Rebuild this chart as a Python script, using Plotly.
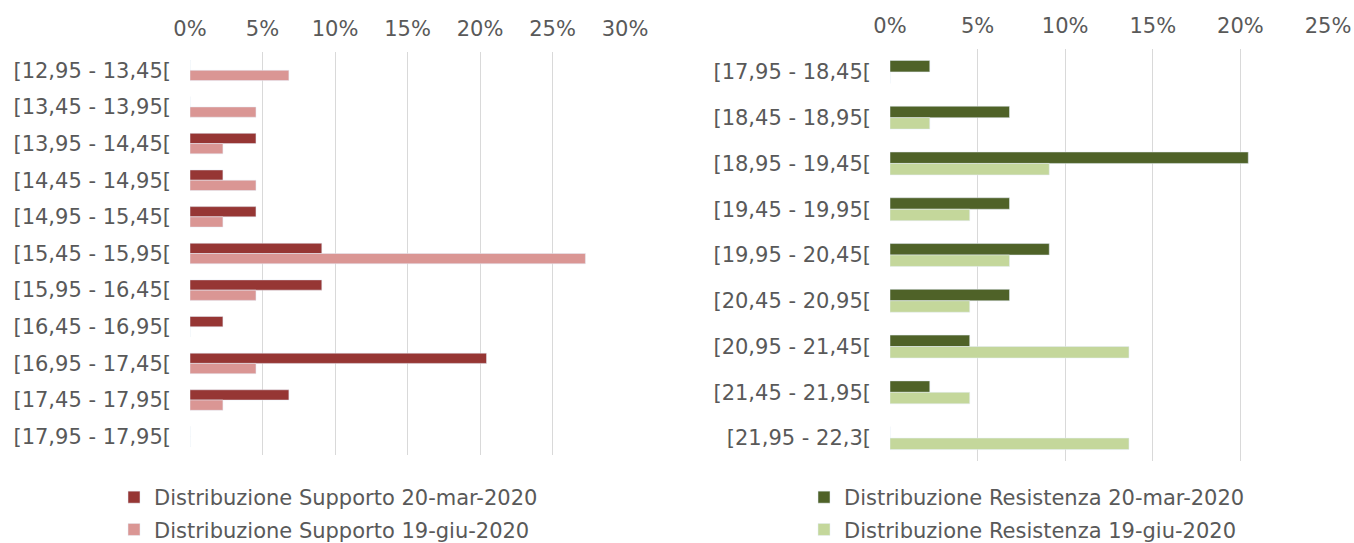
import plotly.graph_objects as go

# Left chart (Supporto)
sup_cats = ["[12,95 - 13,45[", "[13,45 - 13,95[", "[13,95 - 14,45[", "[14,45 - 14,95[",
            "[14,95 - 15,45[", "[15,45 - 15,95[", "[15,95 - 16,45[", "[16,45 - 16,95[",
            "[16,95 - 17,45[", "[17,45 - 17,95[", "[17,95 - 17,95["]
sup_mar = [0, 0, 4.55, 2.27, 4.55, 9.09, 9.09, 2.27, 20.45, 6.82, 0]
sup_giu = [6.82, 4.55, 2.27, 4.55, 2.27, 27.27, 4.55, 0, 4.55, 2.27, 0]

# Right chart (Resistenza)
res_cats = ["[17,95 - 18,45[", "[18,45 - 18,95[", "[18,95 - 19,45[", "[19,45 - 19,95[",
            "[19,95 - 20,45[", "[20,45 - 20,95[", "[20,95 - 21,45[", "[21,45 - 21,95[",
            "[21,95 - 22,3["]
res_mar = [2.27, 6.82, 20.45, 6.82, 9.09, 6.82, 4.55, 2.27, 0]
res_giu = [0, 2.27, 9.09, 4.55, 6.82, 4.55, 13.64, 4.55, 13.64]

sup_ticks = [0, 5, 10, 15, 20, 25, 30]
sup_ticktext = ["0%", "5%", "10%", "15%", "20%", "25%", "30%"]
res_ticks = [0, 5, 10, 15, 20, 25]
res_ticktext = ["0%", "5%", "10%", "15%", "20%", "25%"]

TXT = "#595959"
GRID = "#D9D9D9"
FONT = "DejaVu Sans, Liberation Sans, Arial, sans-serif"
FS = 21

fig = go.Figure()
wl = 0.28
wr = 0.25
fig.add_trace(go.Bar(y=sup_cats, x=sup_mar, orientation="h", name="Distribuzione Supporto 20-mar-2020",
                     marker=dict(color="#963634"), width=wl, offset=-wl, xaxis="x", yaxis="y",
                     legend="legend", legendgroup="a"))
fig.add_trace(go.Bar(y=sup_cats, x=sup_giu, orientation="h", name="Distribuzione Supporto 19-giu-2020",
                     marker=dict(color="#DA9694"), width=wl, offset=0, xaxis="x", yaxis="y",
                     legend="legend", legendgroup="b"))
fig.add_trace(go.Bar(y=res_cats, x=res_mar, orientation="h", name="Distribuzione Resistenza 20-mar-2020",
                     marker=dict(color="#4F6228"), width=wr, offset=-wr, xaxis="x2", yaxis="y2",
                     legend="legend2", legendgroup="c"))
fig.add_trace(go.Bar(y=res_cats, x=res_giu, orientation="h", name="Distribuzione Resistenza 19-giu-2020",
                     marker=dict(color="#C4D79B"), width=wr, offset=0, xaxis="x2", yaxis="y2",
                     legend="legend2", legendgroup="d"))

W, H = 1354, 543
xax = dict(side="top", showgrid=True, gridcolor=GRID, gridwidth=1, zeroline=False, showline=False,
           tickfont=dict(size=FS, color=TXT, family=FONT), ticks="", ticklabelstandoff=11,
           automargin=False, tickmode="array")
yax = dict(autorange="reversed", showgrid=False, zeroline=False, showline=False,
           tickfont=dict(size=FS, color=TXT, family=FONT), ticks="", ticklabelstandoff=18,
           automargin=False)

legfont = dict(size=FS, color=TXT, family=FONT)
fig.update_layout(
    width=W, height=H,
    margin=dict(l=0, r=0, t=0, b=0, autoexpand=False),
    paper_bgcolor="white", plot_bgcolor="white",
    barmode="overlay",
    font=dict(family=FONT, color=TXT),
    xaxis=dict(xax, domain=[190 / W, 625 / W], range=[0, 30], tickvals=sup_ticks, ticktext=sup_ticktext, anchor="y"),
    yaxis=dict(yax, domain=[1 - 455 / H, 1 - 52 / H], anchor="x"),
    xaxis2=dict(xax, domain=[890 / W, 1328 / W], range=[0, 25], tickvals=res_ticks, ticktext=res_ticktext, anchor="y2"),
    yaxis2=dict(yax, domain=[1 - 461 / H, 1 - 49 / H], anchor="x2"),
    legend=dict(x=114 / W, y=1 - 477 / H, xanchor="left", yanchor="top", orientation="v",
                xref="container", yref="container",
                font=legfont, bgcolor="rgba(0,0,0,0)", tracegroupgap=2, itemwidth=30),
    legend2=dict(x=804 / W, y=1 - 477 / H, xanchor="left", yanchor="top", orientation="v",
                 xref="container", yref="container",
                 font=legfont, bgcolor="rgba(0,0,0,0)", tracegroupgap=2, itemwidth=30),
    showlegend=True,
)

fig.write_html("out.html", config={"displayModeBar": False},
               post_script="document.body.style.margin='0';document.body.style.overflow='hidden';")
